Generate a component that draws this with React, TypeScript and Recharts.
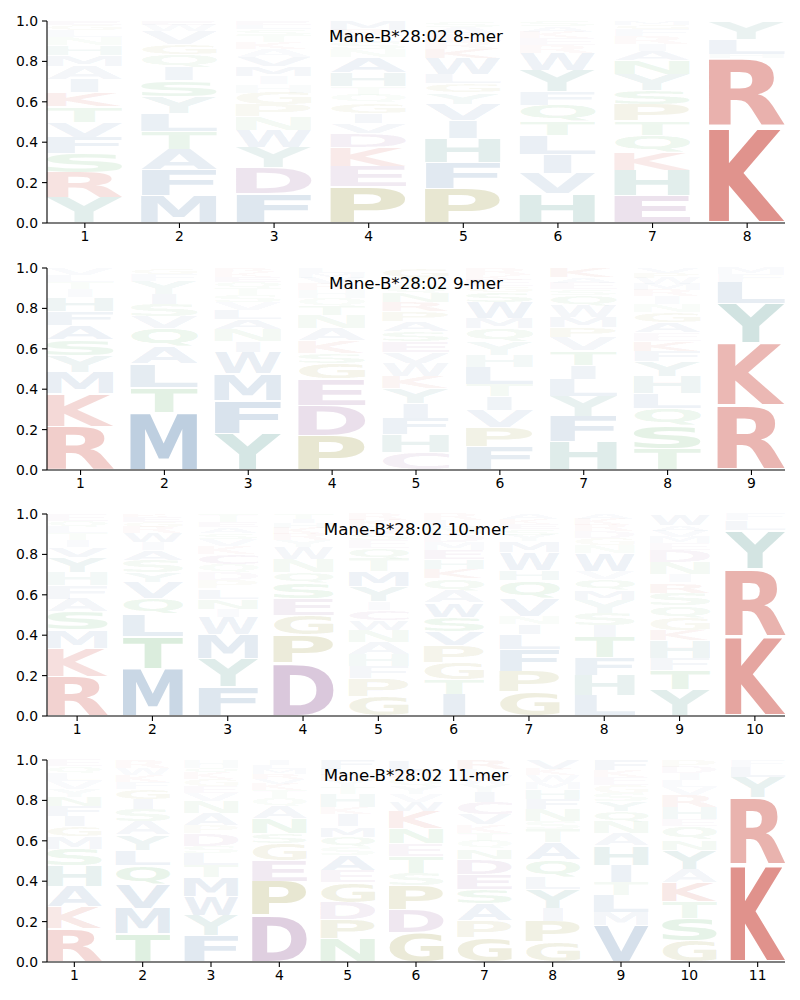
import React from 'react';
import { BarChart, Bar, XAxis, YAxis } from 'recharts';

// ---------- data (letters listed bottom -> top, heights = frequencies) ----------
const mer8Letters = [
  'YRSFVTKIAMHNLGE',
  'MFATLYSIQGVWE',
  'FDYWNPGHIMVAKTSLE',
  'PEKDVIGQTHANSLRM',
  'PFHIVYGLWKREAS',
  'HVILTQFYWREKAS',
  'EHKQTPSYNAIRFGM',
  'KRHLY',
];
const mer8Heights = [
  [0.125, 0.125, 0.095, 0.08, 0.075, 0.075, 0.07, 0.065, 0.065, 0.055, 0.05, 0.04, 0.035, 0.025, 0.02],
  [0.135, 0.13, 0.1, 0.09, 0.09, 0.08, 0.08, 0.065, 0.065, 0.05, 0.065, 0.03, 0.02],
  [0.145, 0.13, 0.1, 0.085, 0.065, 0.06, 0.06, 0.04, 0.04, 0.05, 0.045, 0.04, 0.035, 0.035, 0.03, 0.02, 0.02],
  [0.18, 0.1, 0.095, 0.07, 0.05, 0.05, 0.05, 0.04, 0.04, 0.07, 0.075, 0.04, 0.035, 0.03, 0.03, 0.045],
  [0.17, 0.13, 0.12, 0.09, 0.08, 0.055, 0.045, 0.045, 0.08, 0.045, 0.04, 0.035, 0.035, 0.03],
  [0.145, 0.1, 0.095, 0.095, 0.07, 0.08, 0.065, 0.105, 0.085, 0.04, 0.035, 0.03, 0.03, 0.025],
  [0.135, 0.125, 0.09, 0.085, 0.07, 0.08, 0.07, 0.08, 0.07, 0.045, 0.035, 0.04, 0.035, 0.02, 0.02],
  [0.475, 0.34, 0.02, 0.075, 0.09],
];

const mer9Letters = [
  'RKMYSAFHITLV',
  'MTLAQVSIYFG',
  'YFMWINALVSTQEKR',
  'PDEGSKANTQHRVML',
  'CHFIYKWVESAPRNQTG',
  'FPVITLHYQMWSGEKR',
  'HFYLITVPMWQSEAK',
  'TSQLHYFKEAGNIRMWPV',
  'RKYLFM',
];
const mer9Heights = [
  [0.215, 0.165, 0.105, 0.08, 0.08, 0.07, 0.07, 0.07, 0.04, 0.035, 0.035, 0.035],
  [0.285, 0.125, 0.115, 0.085, 0.09, 0.06, 0.06, 0.05, 0.065, 0.035, 0.03],
  [0.18, 0.165, 0.13, 0.11, 0.05, 0.06, 0.05, 0.045, 0.04, 0.035, 0.035, 0.03, 0.025, 0.025, 0.02],
  [0.17, 0.15, 0.13, 0.08, 0.05, 0.06, 0.06, 0.065, 0.045, 0.04, 0.04, 0.03, 0.03, 0.025, 0.025],
  [0.085, 0.09, 0.08, 0.075, 0.075, 0.06, 0.065, 0.055, 0.05, 0.05, 0.05, 0.05, 0.045, 0.045, 0.04, 0.04, 0.045],
  [0.115, 0.095, 0.085, 0.07, 0.06, 0.085, 0.06, 0.065, 0.065, 0.05, 0.08, 0.05, 0.03, 0.03, 0.025, 0.035],
  [0.14, 0.125, 0.1, 0.085, 0.07, 0.07, 0.065, 0.05, 0.05, 0.06, 0.05, 0.03, 0.03, 0.03, 0.045],
  [0.105, 0.115, 0.085, 0.075, 0.085, 0.075, 0.05, 0.05, 0.04, 0.05, 0.05, 0.04, 0.04, 0.03, 0.03, 0.03, 0.025, 0.025],
  [0.32, 0.31, 0.195, 0.105, 0.04, 0.03],
];

const mer10Letters = [
  'RKMSAFHYVITLQE',
  'MTLQVYSAIWRGEK',
  'FYMWINLPDQCKVSAET',
  'DPGESQNWYRKHIT',
  'GPFHANWCIYMTQESDKR',
  'ITGPVSWAQKHEMDNLR',
  'GPFLINVQHWMYSEKA',
  'LHFTISYMQVWNGDRKA',
  'YTFHKGQSRINDEMVAW',
  'KRYLF',
];
const mer10Heights = [
  [0.195, 0.14, 0.09, 0.09, 0.065, 0.065, 0.065, 0.075, 0.05, 0.035, 0.035, 0.03, 0.03, 0.035],
  [0.235, 0.16, 0.11, 0.075, 0.08, 0.05, 0.06, 0.05, 0.04, 0.045, 0.03, 0.025, 0.025, 0.015],
  [0.145, 0.14, 0.12, 0.085, 0.04, 0.05, 0.05, 0.04, 0.04, 0.04, 0.05, 0.04, 0.035, 0.03, 0.03, 0.025, 0.04],
  [0.26, 0.14, 0.1, 0.08, 0.08, 0.05, 0.065, 0.06, 0.035, 0.03, 0.03, 0.025, 0.02, 0.025],
  [0.095, 0.09, 0.06, 0.06, 0.06, 0.06, 0.05, 0.05, 0.04, 0.075, 0.075, 0.065, 0.05, 0.04, 0.035, 0.035, 0.03, 0.03],
  [0.105, 0.075, 0.085, 0.085, 0.07, 0.07, 0.07, 0.06, 0.06, 0.045, 0.05, 0.045, 0.04, 0.04, 0.035, 0.035, 0.03],
  [0.12, 0.1, 0.11, 0.075, 0.05, 0.04, 0.09, 0.085, 0.05, 0.09, 0.055, 0.03, 0.03, 0.025, 0.025, 0.025],
  [0.1, 0.1, 0.09, 0.1, 0.06, 0.06, 0.065, 0.05, 0.05, 0.04, 0.09, 0.04, 0.035, 0.035, 0.03, 0.03, 0.025],
  [0.13, 0.095, 0.06, 0.09, 0.05, 0.06, 0.06, 0.065, 0.05, 0.04, 0.06, 0.06, 0.035, 0.03, 0.03, 0.03, 0.055],
  [0.395, 0.335, 0.19, 0.05, 0.03],
];

const mer11Letters = [
  'RKAHSMGIFNYVLQE',
  'TMVQLYASIGFKWR',
  'FYWMTLSDPANVEGKQH',
  'DPEGSNAQTKVRMLI',
  'NPDGEASQMIKHTYRLF',
  'GDPSTENKWVYQRL',
  'GPASEDNQTKVCIYWLR',
  'GPIYLQATSNFHMWKV',
  'VMLTIHANQYSGEKF',
  'GSTKAYNQEHRVLIDP',
  'KRYLF',
];
const mer11Heights = [
  [0.165, 0.11, 0.1, 0.1, 0.085, 0.06, 0.05, 0.05, 0.05, 0.045, 0.04, 0.04, 0.04, 0.035, 0.03],
  [0.14, 0.125, 0.12, 0.095, 0.075, 0.075, 0.065, 0.06, 0.05, 0.05, 0.035, 0.035, 0.035, 0.04],
  [0.13, 0.1, 0.095, 0.095, 0.06, 0.06, 0.035, 0.06, 0.04, 0.06, 0.06, 0.04, 0.035, 0.035, 0.03, 0.025, 0.04],
  [0.23, 0.17, 0.1, 0.085, 0.05, 0.075, 0.06, 0.04, 0.04, 0.03, 0.025, 0.025, 0.025, 0.02, 0.025],
  [0.115, 0.095, 0.085, 0.1, 0.06, 0.075, 0.04, 0.05, 0.05, 0.06, 0.035, 0.065, 0.035, 0.03, 0.03, 0.03, 0.045],
  [0.145, 0.115, 0.12, 0.06, 0.085, 0.06, 0.075, 0.085, 0.045, 0.04, 0.04, 0.04, 0.035, 0.055],
  [0.12, 0.085, 0.085, 0.07, 0.075, 0.075, 0.05, 0.04, 0.04, 0.04, 0.05, 0.06, 0.05, 0.04, 0.04, 0.035, 0.045],
  [0.1, 0.1, 0.065, 0.095, 0.06, 0.085, 0.085, 0.065, 0.04, 0.06, 0.05, 0.05, 0.035, 0.035, 0.03, 0.045],
  [0.18, 0.065, 0.085, 0.065, 0.085, 0.095, 0.06, 0.06, 0.05, 0.05, 0.04, 0.04, 0.04, 0.035, 0.05],
  [0.105, 0.11, 0.085, 0.095, 0.065, 0.095, 0.05, 0.065, 0.035, 0.06, 0.06, 0.04, 0.035, 0.035, 0.03, 0.035],
  [0.48, 0.335, 0.1, 0.05, 0.035],
];

const panelTitles = ['Mane-B*28:02 8-mer', 'Mane-B*28:02 9-mer', 'Mane-B*28:02 10-mer', 'Mane-B*28:02 11-mer'];
const yTicks = [0, 0.2, 0.4, 0.6, 0.8, 1.0];

// ---------- styling ----------
const colorGroups: [string, string][] = [
  ['KR', '#cd5046'],
  ['DEC', '#925d98'],
  ['PG', '#969132'],
  ['AVLIMFW', '#507daa'],
  ['YH', '#4b938b'],
  ['STNQ', '#50aa5a'],
];
const letterColor = (ch: string) => {
  for (const [g, c] of colorGroups) if (g.includes(ch)) return c;
  return '#888888';
};

const LOGO_FONT = 'DejaVu Sans';
const FS = 100;
type Box = { l: number; r: number; t: number; b: number };
const boxCache: Record<string, Box> = {};
let measureCtx: CanvasRenderingContext2D | null = null;
function inkBox(ch: string): Box {
  if (boxCache[ch]) return boxCache[ch];
  let box: Box = { l: 6, r: 70, t: -72.9, b: 0 };
  try {
    if (!measureCtx) measureCtx = document.createElement('canvas').getContext('2d');
    if (measureCtx) {
      measureCtx.font = `bold ${FS}px "${LOGO_FONT}"`;
      const m = measureCtx.measureText(ch);
      const l = -m.actualBoundingBoxLeft;
      const r = m.actualBoundingBoxRight;
      const t = -m.actualBoundingBoxAscent;
      const b = m.actualBoundingBoxDescent;
      if (r - l > 1 && b - t > 1) box = { l, r, t, b };
    }
  } catch (e) {
    /* keep fallback */
  }
  boxCache[ch] = box;
  return box;
}

const makeLetterShape = (i: number) => (props: any) => {
  const { x, y, width, height, payload } = props;
  const ch: string | undefined = payload ? payload[`l${i}`] : undefined;
  const v: number = payload ? payload[`s${i}`] : 0;
  if (!ch || !v || !(height > 0.3)) return <g />;
  const pad = height * 0.025;
  const top = y + pad;
  const bot = y + height - pad;
  const box = inkBox(ch);
  const eBox = inkBox('E');
  const inkW = box.r - box.l;
  const inkH = box.b - box.t;
  const sx = Math.min(width / inkW, width / (eBox.r - eBox.l));
  const sy = (bot - top) / inkH;
  const drawnW = inkW * sx;
  const left = x + (width - drawnW) / 2;
  const tx = left - sx * box.l;
  const ty = bot - sy * box.b;
  const alpha = Math.min(1, Math.max(0.035, v * 1.3));
  return (
    <text
      transform={`translate(${tx},${ty}) scale(${sx},${sy})`}
      x={0}
      y={0}
      fontFamily={LOGO_FONT}
      fontWeight="bold"
      fontSize={FS}
      fill={letterColor(ch)}
      fillOpacity={alpha}
    >
      {ch}
    </text>
  );
};

function buildRows(letters: string[], heights: number[][], maxLen: number) {
  return letters.map((col, k) => {
    const row: Record<string, any> = { pos: k + 1 };
    for (let i = 0; i < maxLen; i++) {
      row[`s${i}`] = i < col.length ? heights[k][i] : 0;
      row[`l${i}`] = i < col.length ? col[i] : '';
    }
    return row;
  });
}

const W = 800;
const H = 246;
const M_TOP = 21;
const M_RIGHT = 15;
const Y_W = 47;
const X_H = 23;
const tickStyle = { fontSize: 13.9, fill: '#000', fontFamily: 'DejaVu Sans' };

function LogoPanel({ letters, heights, title, top }: { letters: string[]; heights: number[][]; title: string; top: number }) {
  const n = letters.length;
  const maxLen = Math.max(...letters.map((s) => s.length));
  const rows = buildRows(letters, heights, maxLen);
  const plotW = W - Y_W - M_RIGHT;
  const unit = plotW / (n - 0.2);
  const barSize = unit * 0.8;
  const xTicks = letters.map((_, k) => k + 1);
  return (
    <div style={{ position: 'absolute', left: 0, top, width: W, height: H }}>
      <BarChart width={W} height={H} data={rows} margin={{ top: M_TOP, right: M_RIGHT, bottom: 0, left: 0 }} barSize={barSize}>
        <XAxis
          dataKey="pos"
          type="number"
          domain={[0.6, n + 0.4]}
          ticks={xTicks}
          interval={0}
          height={X_H}
          tickSize={5}
          tickMargin={3}
          tick={tickStyle}
          axisLine={{ stroke: '#000', strokeWidth: 1.1 }}
          tickLine={{ stroke: '#000', strokeWidth: 1.1 }}
        />
        <YAxis
          type="number"
          domain={[0, 1]}
          ticks={yTicks}
          interval={0}
          width={Y_W}
          tickSize={5}
          tickMargin={4}
          tickFormatter={(v: number) => v.toFixed(1)}
          tick={tickStyle}
          axisLine={{ stroke: '#000', strokeWidth: 1.1 }}
          tickLine={{ stroke: '#000', strokeWidth: 1.1 }}
        />
        {Array.from({ length: maxLen }, (_, i) => (
          <Bar key={i} dataKey={`s${i}`} stackId="logo" isAnimationActive={false} shape={makeLetterShape(i)} />
        ))}
      </BarChart>
      <svg width={W} height={H} style={{ position: 'absolute', left: 0, top: 0, pointerEvents: 'none' }}>
        <text x={Y_W + plotW / 2} y={M_TOP + 21} textAnchor="middle" fontFamily="DejaVu Sans" fontSize={16.67} fill="#000">
          {title}
        </text>
      </svg>
    </div>
  );
}

export default function App() {
  return (
    <div style={{ position: 'absolute', left: 0, top: 0, width: 800, height: 1000, background: '#fff' }}>
      <LogoPanel letters={mer8Letters} heights={mer8Heights} title={panelTitles[0]} top={0} />
      <LogoPanel letters={mer9Letters} heights={mer9Heights} title={panelTitles[1]} top={247} />
      <LogoPanel letters={mer10Letters} heights={mer10Heights} title={panelTitles[2]} top={493} />
      <LogoPanel letters={mer11Letters} heights={mer11Heights} title={panelTitles[3]} top={739} />
    </div>
  );
}
